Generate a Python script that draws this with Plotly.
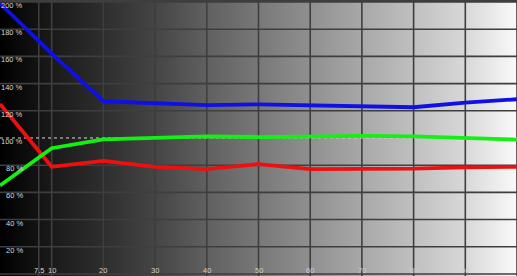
import plotly.graph_objects as go
import numpy as np

# ---- data ----
x_levels = [0, 10, 20, 30, 40, 50, 60, 70, 80, 90, 100]
red   = [125.0, 78.8, 83.2, 78.8, 77.1, 80.8, 77.1, 77.1, 77.4, 78.4, 78.8]
green = [65.0, 92.5, 99.0, 100.2, 101.2, 100.7, 101.2, 101.5, 101.2, 100.2, 98.8]
blue  = [199.0, 162.0, 127.0, 125.3, 124.2, 124.7, 124.0, 123.9, 122.6, 126.0, 128.5]

x_ticks = [7.5, 10, 20, 30, 40, 50, 60, 70, 80, 90]
x_tick_labels = ["7.5", "10", "20", "30", "40", "50", "60", "70", "80", "90"]
x_grid = [7.5, 10, 20, 30, 40, 50, 60, 70, 80, 90, 100]
y_ticks = [20, 40, 60, 80, 100, 120, 140, 160, 180, 200]
y_tick_labels = ["20 %", "40 %", "60 %", "80 %", "100 %", "120 %", "140 %", "160 %", "180 %", "200 %"]
y_grid = [0, 20, 40, 60, 80, 120, 140, 160, 180, 200]

X0, X1 = 0, 100
Y0, Y1 = -1.5, 200

fig = go.Figure()

# background gradient black -> white
gx = np.linspace(X0, X1, 300)
bg_scale = [[0.0, "#000000"], [0.1, "#1a1a1a"], [0.2, "#2e2e2e"], [0.3, "#454545"],
            [0.4, "#606060"], [0.5, "#787878"], [0.6, "#909090"], [0.7, "#a8a8a8"],
            [0.8, "#c0c0c0"], [0.9, "#d8d8d8"], [1.0, "#fafafa"]]
fig.add_trace(go.Heatmap(
    x=gx, y=[Y0, Y1], z=[gx, gx], zsmooth="best",
    colorscale=bg_scale, showscale=False,
    hoverinfo="skip", zmin=X0, zmax=X1))

# grid lines
gxs, gys = [], []
for v in x_grid:
    gxs += [v, v, None]; gys += [Y0, Y1, None]
for v in y_grid:
    gxs += [X0, X1, None]; gys += [v, v, None]
fig.add_trace(go.Scatter(x=gxs, y=gys, mode="lines",
                         line=dict(color="#3e3e3e", width=1.6),
                         hoverinfo="skip", showlegend=False))

# 100% reference dashed line
fig.add_trace(go.Scatter(x=[X0, X1], y=[100, 100], mode="lines",
                         line=dict(color="#d8d8d8", width=1, dash="3px,3px"),
                         hoverinfo="skip", showlegend=False))

for vals, col in [(red, "#ee1010"), (green, "#14f014"), (blue, "#1010e6")]:
    fig.add_trace(go.Scatter(x=x_levels, y=vals, mode="lines",
                             line=dict(color=col, width=3.8),
                             showlegend=False))

lab_font = dict(family="Liberation Sans, Arial", size=7.5, color="#d8d8d8")
ann = []
for v, t in zip(y_ticks, y_tick_labels):
    ann.append(dict(x=24 / 517, xref="paper", y=v, yref="y", yshift=2, text=t,
                    showarrow=False, xanchor="right", yanchor="top",
                    borderpad=0, font=lab_font))
for v, t in zip(x_ticks, x_tick_labels):
    ann.append(dict(x=v, xref="x", y=0, yref="paper", yshift=0, text=t,
                    showarrow=False, xanchor="center", yanchor="bottom",
                    borderpad=0, font=dict(lab_font, color="#d0d0d0")))

fig.update_layout(
    width=517, height=276, margin=dict(l=0, r=0, t=0, b=0),
    paper_bgcolor="#000000", plot_bgcolor="#000000",
    xaxis=dict(range=[X0, X1], showgrid=False, zeroline=False, showticklabels=False,
               showline=True, mirror=True, linecolor="#3e3e3e", linewidth=1.6),
    yaxis=dict(range=[Y0, Y1], showgrid=False, zeroline=False, showticklabels=False,
               showline=False),
    annotations=ann, showlegend=False,
)

fig.write_html("out.html")
